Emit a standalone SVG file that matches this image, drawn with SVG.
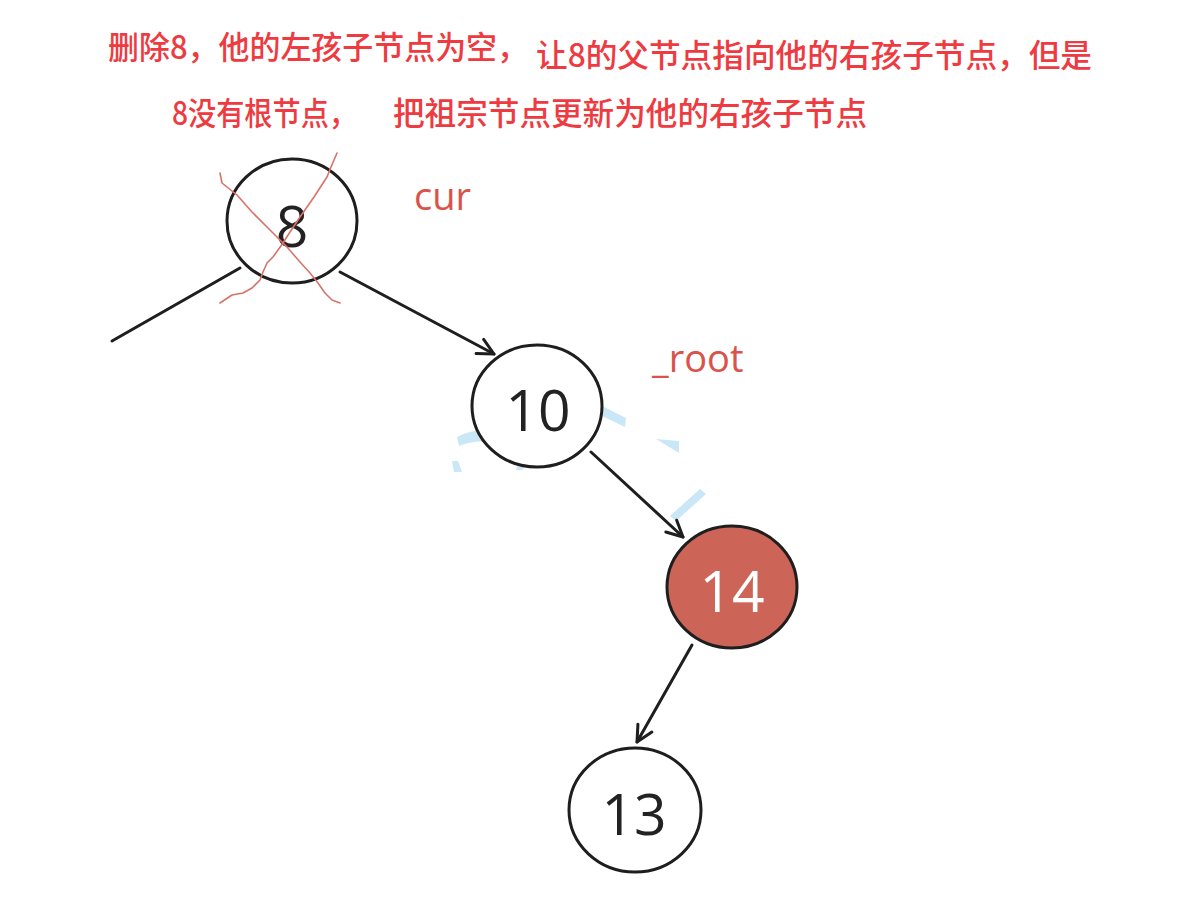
<svg xmlns="http://www.w3.org/2000/svg" width="1191" height="911" viewBox="0 0 1191 911">
<style>
.title{font-family:"Noto Sans CJK SC","Noto Sans",sans-serif;font-size:32px;font-weight:500;fill:#ee3a41}
.lbl{font-family:"Open Sans","Noto Sans",sans-serif;font-size:38px;fill:#d9534a}
.node{fill:#fff;stroke:#1e1e1e;stroke-width:3}
.red{fill:#cd6458;stroke:#1e1e1e;stroke-width:3}
.num{font-family:"Open Sans","Noto Sans",sans-serif;font-size:57px;fill:#222;text-anchor:middle}
.wnum{fill:#fff}
.edge{stroke:#1e1e1e;stroke-width:3;fill:none;stroke-linecap:round}
.x{stroke:#d8736a;stroke-width:1.6;fill:none;stroke-linecap:round;stroke-linejoin:round}
.blue{fill:#c9e7f7;stroke:none}
</style>
<defs>
<marker id="arr" viewBox="0 0 20 20" refX="18" refY="10" markerWidth="20" markerHeight="20" markerUnits="userSpaceOnUse" orient="auto">
<path d="M2,2 L18,10 L2,18" fill="none" stroke="#1e1e1e" stroke-width="3" stroke-linecap="round" stroke-linejoin="round"/>
</marker>
</defs>
<rect width="1191" height="911" fill="#fff"/>
<g id="title">
<text class="title" x="108" y="59" textLength="420" lengthAdjust="spacingAndGlyphs">删除8，他的左孩子节点为空，</text>
<text class="title" x="536" y="67" textLength="556" lengthAdjust="spacingAndGlyphs">让8的父节点指向他的右孩子节点，但是</text>
<text class="title" x="172" y="125" textLength="185" lengthAdjust="spacingAndGlyphs">8没有根节点，</text>
<text class="title" x="393" y="125" textLength="474" lengthAdjust="spacingAndGlyphs">把祖宗节点更新为他的右孩子节点</text>
</g>
<g id="marks">
<path class="blue" d="M566,398 L598,404 L626,418 L625,427 L596,413 L566,409 Z"/>
<path class="blue" d="M457,437 Q482,424 505,436 L504,448 Q484,436 459,446 Z"/>
<path class="blue" d="M525,444 L551,444 L522,470 L516,470 Z"/>
<path class="blue" d="M452,461 L458,461 L462,472 L454,472 Z"/>
<path class="blue" d="M656,439 L679,441 L679,453 Z"/>
<path class="blue" d="M700,489 L706,494 L676,521 L670,516 Z"/>
</g>
<g id="connectors">
<line class="edge" x1="240" y1="268" x2="112" y2="341"/>
<line class="edge" x1="340" y1="272" x2="494" y2="354" marker-end="url(#arr)"/>
<line class="edge" x1="591" y1="452" x2="683" y2="537" marker-end="url(#arr)"/>
<line class="edge" x1="692" y1="645" x2="637" y2="742" marker-end="url(#arr)"/>
</g>
<g id="node-8">
<ellipse class="node" cx="292" cy="221" rx="65" ry="62"/>
<text class="num" x="292" y="247">8</text>
<path class="x" d="M220,173 L222,183 L237,195 L252,212 L267,227 L287,247 L300,262 L310,273 L318,283 L325,293 L332,300 L340,303"/>
<path class="x" d="M337,153 L331,167 L327,177 L314,197 L300,217 L290,232 L283,243 L273,257 L267,263 L263,272 L260,280 L252,288 L243,293 L232,295 L220,303"/>
</g>
<g id="node-10">
<ellipse class="node" cx="537" cy="406" rx="65" ry="61"/>
<text class="num" x="538" y="431">10</text>
</g>
<g id="node-14">
<ellipse class="red" cx="732" cy="587" rx="65" ry="61"/>
<text class="num wnum" x="732" y="612">14</text>
</g>
<g id="node-13">
<ellipse class="node" cx="635" cy="810" rx="66" ry="62"/>
<text class="num" x="634" y="835">13</text>
</g>
<g id="labels">
<text class="lbl" x="414" y="210">cur</text>
<text class="lbl" x="652" y="372">_root</text>
</g>
</svg>
